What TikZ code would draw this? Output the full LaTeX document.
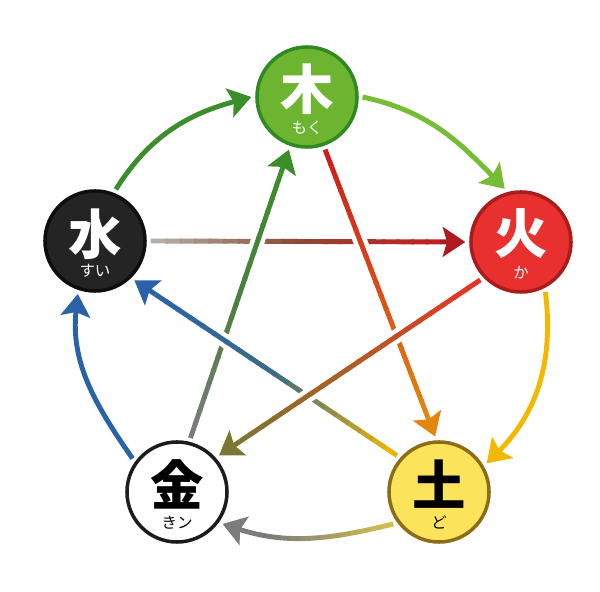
\documentclass[tikz,border=0pt]{standalone}
\usepackage{fontspec}
\newfontfamily\jp{Noto Sans CJK JP}
\usetikzlibrary{calc,arrows.meta}

\definecolor{mokuF}{HTML}{6DB531}
\definecolor{mokuD}{HTML}{2F8A22}
\definecolor{kaF}{HTML}{E8302E}
\definecolor{kaD}{HTML}{A81C1C}
\definecolor{doF}{HTML}{FCE35C}
\definecolor{doD}{HTML}{8C6C14}
\definecolor{kinD}{HTML}{1C1C1C}
\definecolor{suiF}{HTML}{242424}
\definecolor{suiD}{HTML}{0E0E0E}
% arrow colours
\definecolor{greenA}{HTML}{3A8F2A}
\definecolor{limeA}{HTML}{74BD34}
\definecolor{goldA}{HTML}{F5B800}
\definecolor{khakiA}{HTML}{D6C24A}
\definecolor{grayA}{HTML}{7C7C7C}
\definecolor{blueA}{HTML}{2A62A8}
\definecolor{ashA}{HTML}{B4B4AA}
\definecolor{brownA}{HTML}{8A4A34}
\definecolor{redA}{HTML}{C41E22}
\definecolor{redT}{HTML}{B01A1E}
\definecolor{scarletA}{HTML}{CC1C1C}
\definecolor{vermA}{HTML}{D84A1A}
\definecolor{orangeA}{HTML}{E2860E}
\definecolor{fireA}{HTML}{E83228}
\definecolor{rustA}{HTML}{B45A22}
\definecolor{oliveA}{HTML}{7B7630}
\definecolor{tealA}{HTML}{3C6C84}
\definecolor{mossA}{HTML}{4E7E40}

\tikzset{
  elem/.style={circle, minimum size=2.5cm, line width=2.5pt, outer sep=4pt, inner sep=0pt},
  kanji/.style={font=\jp\bfseries\fontsize{38}{38}\selectfont, inner sep=0pt},
  kana/.style={font=\jp\fontsize{11}{11}\selectfont, inner sep=0pt},
  flow/.style={line width=3.5pt, -{Stealth[length=16pt,width=21pt,inset=3pt]}},
}

% straight arrow with a three-stop colour run, white gap under the lines it crosses
\newcommand{\gradarrow}[6]{%
  \coordinate (ga) at (#1);
  \coordinate (gb) at ($(#2)!18pt!(#1)$);
  \draw[white, line width=10pt] ($(ga)!0.2!(gb)$) -- ($(ga)!0.8!(gb)$);
  \foreach \i in {1,...,20}{
    \pgfmathsetmacro\ta{(\i-1)/20}
    \pgfmathsetmacro\tb{min(\i/20+0.01,1)}
    \ifnum\i>10
      \pgfmathtruncatemacro\p{(2*\i-21)*5}
      \draw[line width=3.5pt, color=#5!\p!#4] ($(ga)!\ta!(gb)$) -- ($(ga)!\tb!(gb)$);
    \else
      \pgfmathtruncatemacro\p{(2*\i-1)*5}
      \draw[line width=3.5pt, color=#4!\p!#3] ($(ga)!\ta!(gb)$) -- ($(ga)!\tb!(gb)$);
    \fi
  }
  \draw[flow, #6] (gb) -- (#2);
}

\begin{document}
\begin{tikzpicture}[x=0.025cm, y=0.025cm]
  \useasboundingbox (0,0) rectangle (600,592);

  % the five elements
  \node[elem, fill=mokuF, draw=mokuD] (moku) at (307,495) {};
  \node[elem, fill=kaF, draw=kaD] (ka) at (521,350) {};
  \node[elem, fill=doF, draw=doD] (do) at (439,100) {};
  \node[elem, fill=white, draw=kinD] (kin) at (177,100) {};
  \node[elem, fill=suiF, draw=suiD] (sui) at (95,351) {};

  \node[kanji, white] (mokuK) at ($(moku)+(0,8)$) {木};
  \node[kana, white] (mokuR) at ($(moku)+(0,-31)$) {もく};
  \node[kanji, white] (kaK) at ($(ka)+(0,8)$) {火};
  \node[kana, white] (kaR) at ($(ka)+(0,-31)$) {か};
  \node[kanji, black] (doK) at ($(do)+(0,8)$) {土};
  \node[kana, black] (doR) at ($(do)+(0,-31)$) {ど};
  \node[kanji, black] (kinK) at ($(kin)+(0,8)$) {金};
  \node[kana, black] (kinR) at ($(kin)+(0,-31)$) {きン};
  \node[kanji, white] (suiK) at ($(sui)+(0,7)$) {水};
  \node[kana, white] (suiR) at ($(sui)+(0,-30)$) {すい};

  % outer cycle
  \draw[flow, greenA] (sui.68) to[out=58,in=195] (moku.180);
  \draw[flow, limeA] (moku.0) to[out=-12,in=134] (ka.107);
  \draw[flow, goldA] (ka.-64) to[out=-83,in=45] (do.31);
  \foreach \i in {0,...,18}{
    \pgfmathtruncatemacro\p{max(0,min(100,(\i*10+215-270)*100/125))}
    \begin{scope}
      \clip (210+\i*10,0) rectangle ++(10.5,150);
      \draw[flow, color=khakiA!\p!grayA] (do.215) to[out=194,in=-18] (kin.-35);
    \end{scope}
  }
  \draw[flow, blueA] (kin.143) to[out=125,in=264] (sui.-108);

  % inner star
  \gradarrow{sui.0}{ka.180}{ashA}{brownA}{redA}{redT}
  \gradarrow{kin.76}{moku.-109}{grayA}{mossA}{greenA}{greenA}
  \gradarrow{moku.-71}{do.94}{scarletA}{vermA}{orangeA}{orangeA}
  \gradarrow{do.139}{sui.-45}{goldA}{tealA}{blueA}{blueA}
  \gradarrow{ka.223}{kin.41}{fireA}{rustA}{oliveA}{oliveA}
\end{tikzpicture}
\end{document}
